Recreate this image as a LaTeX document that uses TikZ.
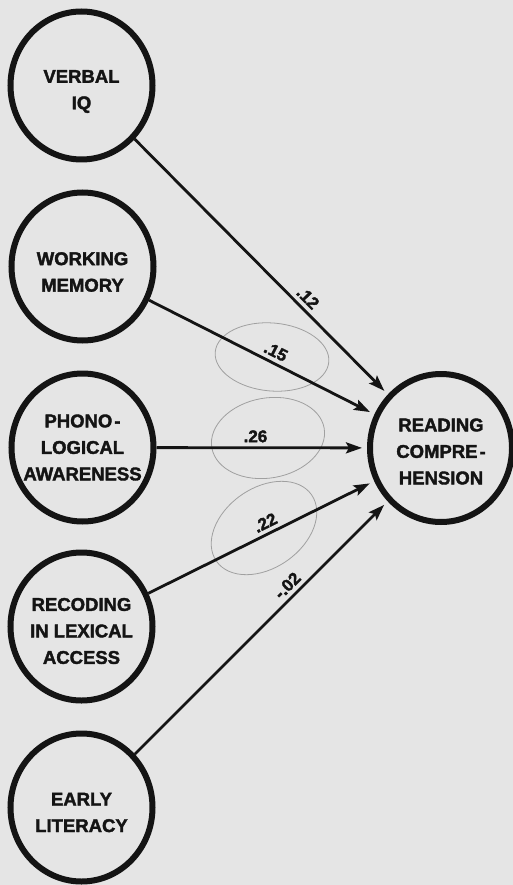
\documentclass[tikz,border=0pt]{standalone}
\usepackage{fontspec}
\setmainfont{Liberation Sans}[BoldFeatures={FakeBold=2}]
\usetikzlibrary{shapes.geometric,arrows.meta}
\definecolor{paper}{RGB}{229,229,229}
\definecolor{ink}{RGB}{20,20,20}
\definecolor{pen}{RGB}{160,160,160}
\begin{document}
\begin{tikzpicture}[x=1pt,y=-1pt,
  var/.style={ellipse, draw=ink, line width=6pt, minimum width=142pt, minimum height=148pt, inner sep=0pt},
  vtext/.style={font=\fontsize{18.5}{26.5}\selectfont\bfseries, align=center, text=ink, inner sep=0pt},
  link/.style={draw=ink, line width=2.8pt, -{Stealth[length=16pt,width=11pt,inset=3pt]}, shorten >=5pt},
  coef/.style={font=\fontsize{17}{17}\selectfont\bfseries, text=ink, sloped, anchor=south, inner sep=4pt},
  scribble/.style={draw=pen, line width=0.8pt}]
\fill[paper] (0,0) rectangle (513,885);
\useasboundingbox (0,0) rectangle (513,885);

% pen scribbles
\draw[scribble, rotate around={-5:(272,357)}] (272,357) ellipse [x radius=57, y radius=34];
\draw[scribble, rotate around={10:(268,438)}] (268,438) ellipse [x radius=57, y radius=40];
\draw[scribble, rotate around={35:(264,528)}] (264,528) ellipse [x radius=58, y radius=40];

% variables
\node[var] (viq) at (81.5,85.5) {};
\node[var] (wm)  at (82.5,266.5) {};
\node[var] (pa)  at (82.5,447.5) {};
\node[var] (rla) at (81.5,626.5) {};
\node[var] (el)  at (81.5,807.5) {};
\node[var] (rc)  at (441,448) {};

\node[vtext] (viq-t) at (81.5,91.5) {VERBAL\\IQ};
\node[vtext] (wm-t)  at (82.5,272) {WORKING\\MEMORY};
\node[vtext] (pa-t)  at (82.5,447.5) {PHONO\kern2pt-\\LOGICAL\\AWARENESS};
\node[vtext] (rla-t) at (81.5,631) {RECODING\\IN LEXICAL\\ACCESS};
\node[vtext] (el-t)  at (81.5,812.5) {EARLY\\LITERACY};
\node[vtext] (rc-t)  at (441,451.5) {READING\\COMPRE\kern2pt-\\HENSION};

% paths
\draw[link] (viq) -- node[coef, pos=0.653] {.12} (rc);
\draw[link] (wm)  -- node[coef, pos=0.54] {.15} (rc);
\draw[link] (pa)  -- node[coef, pos=0.47] {.26} (rc);
\draw[link] (rla) -- node[coef, pos=0.54] {.22} (rc);
\draw[link] (el)  -- node[coef, pos=0.635] {-.02} (rc);
\end{tikzpicture}
\end{document}
